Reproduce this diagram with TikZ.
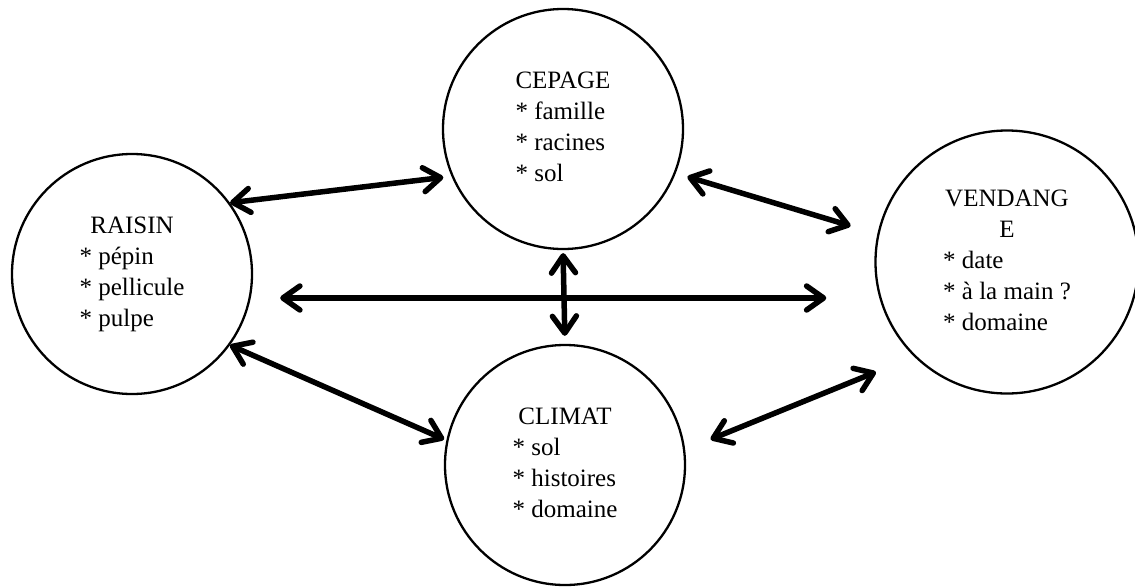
\documentclass[tikz,border=0pt]{standalone}
\usepackage{fontspec}
\setmainfont{Liberation Serif}
\usetikzlibrary{positioning,arrows.meta,calc}

\begin{document}
\begin{tikzpicture}[x=1pt,y=-1pt,
  cercle/.style={draw, circle, line width=2.3pt, minimum size=240pt, inner sep=0pt,
    font=\fontsize{25}{31}\selectfont},
  fleche/.style={line width=5.5pt,
    {Straight Barb[length=17pt,width=24pt,round]}-{Straight Barb[length=17pt,width=24pt,round]}}]
\useasboundingbox (0,0) rectangle (1135,587);

% Les quatre cercles
\node[cercle] (raisin) at (132,274) {\begin{tabular}{@{}l@{}}
  \multicolumn{1}{@{}c@{}}{RAISIN}\\ {*} pépin\\ {*} pellicule\\ {*} pulpe\end{tabular}};
\node[cercle] (cepage) at (563,129) {\begin{tabular}{@{}l@{}}
  \multicolumn{1}{@{}c@{}}{CEPAGE}\\ {*} famille\\ {*} racines\\ {*} sol\end{tabular}};
\node[cercle] (climat) at (565,465) {\begin{tabular}{@{}l@{}}
  \multicolumn{1}{@{}c@{}}{CLIMAT}\\ {*} sol\\ {*} histoires\\ {*} domaine\end{tabular}};
\node[cercle, minimum size=263pt] (vendange) at (1007,262) {\begin{tabular}{@{}l@{}}
  \multicolumn{1}{@{}c@{}}{VENDANG}\\ \multicolumn{1}{@{}c@{}}{E}\\
  {*} date\\ {*} à la main ?\\ {*} domaine\end{tabular}};

% Fleches entre les cercles
\draw[fleche] (raisin.36) -- ($(cepage)!1.065!(cepage.202)$);
\draw[fleche] ($(cepage)!1.1!(cepage.339)$) -- ($(vendange)!1.21!(vendange.167)$);
\draw[fleche] (raisin.324) -- ($(climat)!1.02!(climat.168)$);
\draw[fleche] ($(climat)!1.22!(climat.10)$) -- ($(vendange)!1.29!(vendange.220)$);

% Fleche horizontale et fleche verticale
\draw[fleche] ([shift={(27,24)}]raisin.east) -- ([shift={(-48,36)}]vendange.west);
\draw[fleche, shorten <=3pt, shorten >=8pt] (cepage.south) -- (climat.north);

\end{tikzpicture}
\end{document}
